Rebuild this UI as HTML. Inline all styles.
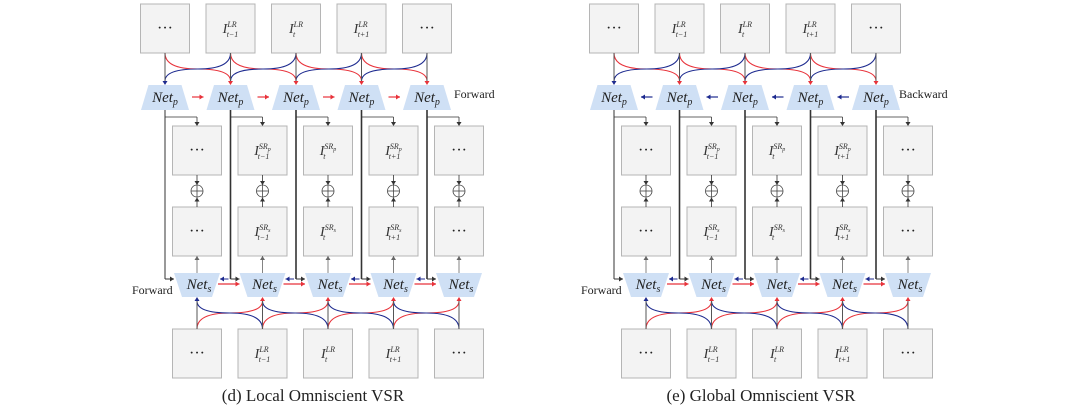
<!DOCTYPE html>
<html><head><meta charset="utf-8">
<style>
html,body{margin:0;padding:0;background:#fff;}
svg{display:block;}
.lab{font-family:"Liberation Serif",serif;font-style:italic;fill:#333;}
.net{font-family:"Liberation Serif",serif;font-style:italic;font-size:15px;fill:#222;}
.dots{font-family:"Liberation Serif",serif;font-size:16px;fill:#222;}
.cap{font-family:"Liberation Serif",serif;font-size:17px;fill:#222;}
.small{font-family:"Liberation Serif",serif;font-size:12px;fill:#222;}
</style></head>
<body>
<svg id="s" width="1080" height="413" viewBox="0 0 1080 413" xmlns="http://www.w3.org/2000/svg">
<g id="shapes"></g>
<g id="txtL">
 <text class="dots" x="165" y="33" text-anchor="middle">···</text>
 <text class="lab" x="230.5" y="33" text-anchor="middle" font-size="14">I<tspan font-size="8" dy="-6">LR</tspan><tspan font-size="8" dx="-10" dy="10">t−1</tspan></text>
 <text class="lab" x="296" y="33" text-anchor="middle" font-size="14">I<tspan font-size="8" dy="-6">LR</tspan><tspan font-size="8" dx="-10" dy="10">t</tspan></text>
 <text class="lab" x="361.5" y="33" text-anchor="middle" font-size="14">I<tspan font-size="8" dy="-6">LR</tspan><tspan font-size="8" dx="-10" dy="10">t+1</tspan></text>
 <text class="dots" x="427" y="33" text-anchor="middle">···</text>

 <text class="dots" x="197" y="155" text-anchor="middle">···</text>
 <text class="lab" x="262.5" y="155" text-anchor="middle" font-size="14">I<tspan font-size="8" dy="-6">SR<tspan font-size="6" dy="2">p</tspan></tspan><tspan font-size="8" dx="-13" dy="8">t−1</tspan></text>
 <text class="lab" x="328" y="155" text-anchor="middle" font-size="14">I<tspan font-size="8" dy="-6">SR<tspan font-size="6" dy="2">p</tspan></tspan><tspan font-size="8" dx="-13" dy="8">t</tspan></text>
 <text class="lab" x="393.5" y="155" text-anchor="middle" font-size="14">I<tspan font-size="8" dy="-6">SR<tspan font-size="6" dy="2">p</tspan></tspan><tspan font-size="8" dx="-13" dy="8">t+1</tspan></text>
 <text class="dots" x="459" y="155" text-anchor="middle">···</text>

 <text class="dots" x="197" y="236" text-anchor="middle">···</text>
 <text class="lab" x="262.5" y="236" text-anchor="middle" font-size="14">I<tspan font-size="8" dy="-6">SR<tspan font-size="6" dy="2">s</tspan></tspan><tspan font-size="8" dx="-13" dy="8">t−1</tspan></text>
 <text class="lab" x="328" y="236" text-anchor="middle" font-size="14">I<tspan font-size="8" dy="-6">SR<tspan font-size="6" dy="2">s</tspan></tspan><tspan font-size="8" dx="-13" dy="8">t</tspan></text>
 <text class="lab" x="393.5" y="236" text-anchor="middle" font-size="14">I<tspan font-size="8" dy="-6">SR<tspan font-size="6" dy="2">s</tspan></tspan><tspan font-size="8" dx="-13" dy="8">t+1</tspan></text>
 <text class="dots" x="459" y="236" text-anchor="middle">···</text>

 <text class="dots" x="197" y="358" text-anchor="middle">···</text>
 <text class="lab" x="262.5" y="358" text-anchor="middle" font-size="14">I<tspan font-size="8" dy="-6">LR</tspan><tspan font-size="8" dx="-10" dy="10">t−1</tspan></text>
 <text class="lab" x="328" y="358" text-anchor="middle" font-size="14">I<tspan font-size="8" dy="-6">LR</tspan><tspan font-size="8" dx="-10" dy="10">t</tspan></text>
 <text class="lab" x="393.5" y="358" text-anchor="middle" font-size="14">I<tspan font-size="8" dy="-6">LR</tspan><tspan font-size="8" dx="-10" dy="10">t+1</tspan></text>
 <text class="dots" x="459" y="358" text-anchor="middle">···</text>

 <text class="net" x="165" y="102" text-anchor="middle">Net<tspan font-size="10" dy="3">p</tspan></text>
 <text class="net" x="230.5" y="102" text-anchor="middle">Net<tspan font-size="10" dy="3">p</tspan></text>
 <text class="net" x="296" y="102" text-anchor="middle">Net<tspan font-size="10" dy="3">p</tspan></text>
 <text class="net" x="361.5" y="102" text-anchor="middle">Net<tspan font-size="10" dy="3">p</tspan></text>
 <text class="net" x="427" y="102" text-anchor="middle">Net<tspan font-size="10" dy="3">p</tspan></text>

 <text class="net" x="199" y="289" text-anchor="middle">Net<tspan font-size="10" dy="3">s</tspan></text>
 <text class="net" x="264.5" y="289" text-anchor="middle">Net<tspan font-size="10" dy="3">s</tspan></text>
 <text class="net" x="330" y="289" text-anchor="middle">Net<tspan font-size="10" dy="3">s</tspan></text>
 <text class="net" x="395.5" y="289" text-anchor="middle">Net<tspan font-size="10" dy="3">s</tspan></text>
 <text class="net" x="461" y="289" text-anchor="middle">Net<tspan font-size="10" dy="3">s</tspan></text>

 <text class="small" x="132" y="294">Forward</text>
</g>
<use href="#txtL" x="449" y="0"/>
<text class="small" x="454" y="98">Forward</text>
<text class="small" x="899" y="98">Backward</text>
<text class="cap" x="313" y="401" text-anchor="middle">(d) Local Omniscient VSR</text>
<text class="cap" x="761" y="401" text-anchor="middle">(e) Global Omniscient VSR</text>
</svg>
<script>
const NS="http://www.w3.org/2000/svg";
const G=document.getElementById('shapes');
const RED="#e8323a",BLUE="#1d2a8f",BLK="#333";
function el(t,a){const e=document.createElementNS(NS,t);for(const k in a)e.setAttribute(k,a[k]);G.appendChild(e);return e;}
function line(x1,y1,x2,y2,c,w){el('line',{x1,y1,x2,y2,stroke:c,'stroke-width':w||1});}
function head(x,y,dir,c,s){s=s||4;let p;
 if(dir=='d')p=[[x,y],[x-s/1.6,y-s],[x+s/1.6,y-s]];
 if(dir=='u')p=[[x,y],[x-s/1.6,y+s],[x+s/1.6,y+s]];
 if(dir=='r')p=[[x,y],[x-s,y-s/1.6],[x-s,y+s/1.6]];
 if(dir=='l')p=[[x,y],[x+s,y-s/1.6],[x+s,y+s/1.6]];
 el('polygon',{points:p.map(q=>q.join(',')).join(' '),fill:c});}
function arrow(x1,y1,x2,y2,c,dir,w){line(x1,y1,x2,y2,c,w);head(x2,y2,dir,c);}
function build(ox,fwd){
 const c=[165,230.5,296,361.5,427].map(x=>x+ox);
 for(let i=0;i<5;i++){
  const x=c[i],m=x+32;
  for(const [bx,by] of [[x,4],[m,126],[m,207],[m,329]])
   el('rect',{x:bx-24.5,y:by,width:49,height:49,fill:'#f3f3f3',stroke:'#b5b5b5','stroke-width':1});
 }
 for(let i=0;i<5;i++){
  for(const j of [i-1,i+1]){
   if(j<0||j>4)continue;
   const a=c[i],b=c[j],s=Math.sign(b-a),col=s>0?RED:BLUE,h=(a+b)/2;
   el('path',{d:`M${a} 53 Q${a} 69 ${h} 69 Q${b} 69 ${b} 81`,fill:'none',stroke:col,'stroke-width':1.1});
   const A=a+32,B=b+32,H=h+32;
   el('path',{d:`M${A} 329 Q${A} 313 ${H} 313 Q${B} 313 ${B} 301`,fill:'none',stroke:col,'stroke-width':1.1});
  }
 }
 for(let i=0;i<5;i++){
  const x=c[i],m=x+32,col=i==0?BLUE:RED;
  line(x,53,x,81,'#555',1);head(x,85,'d',col);
  line(m,329,m,301,'#555',1);head(m,297,'u',col);
  el('polygon',{points:`${x-16.5},85 ${x+16.5},85 ${x+24},110 ${x-24},110`,fill:'#cfe0f5'});
  el('polygon',{points:`${m-23},273 ${m+23},273 ${m+15},297 ${m-15},297`,fill:'#cfe0f5'});
  line(x,110,x,279,BLK,i==0?1:1.6);
  arrow(x,279,m-23,279,BLK,'r');
  line(x,117,m,117,BLK,0.8);
  line(m,117,m,123,BLK,0.8);
  el('polygon',{points:`${m},126 ${m-2.5},122 ${m+2.5},122`,fill:BLK});
  arrow(m,175,m,185,BLK,'d',0.8);
  el('circle',{cx:m,cy:191,r:6,fill:'#fff',stroke:'#444','stroke-width':0.8});
  line(m-6,191,m+6,191,'#444',0.8);line(m,185,m,197,'#444',0.8);
  arrow(m,207,m,197.5,BLK,'u',0.8);
  arrow(m,273,m,256,'#666','u',0.8);
  if(i<4){
   const n=c[i+1];
   if(fwd)arrow(x+27,97,n-27,97,RED,'r',1.2);else arrow(n-27,97,x+27,97,BLUE,'l',1.2);
   arrow(m+21,284,n+32-23,284,RED,'r',1.2);
   arrow(n-2,279,m+23,279,BLUE,'l',1);
  }
 }
}
build(0,true);build(449,false);
</script>
</body></html>
